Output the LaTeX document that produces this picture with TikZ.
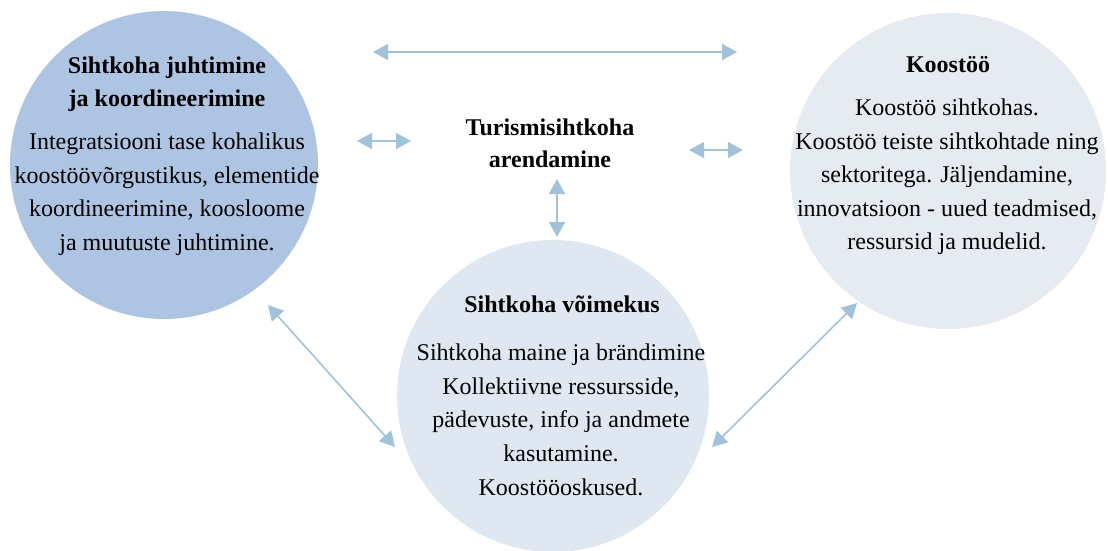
\documentclass[tikz,border=0pt]{standalone}
\usepackage{fontspec}
\setmainfont{Liberation Serif}
\usetikzlibrary{arrows.meta}
\definecolor{leftfill}{HTML}{ADC5E3}
\definecolor{rightfill}{HTML}{E6EAF1}
\definecolor{botfill}{HTML}{DFE8F2}
\definecolor{arrcol}{HTML}{A0C2DB}
\tikzset{
  bubble/.style={circle, inner sep=0pt, draw=none},
  ttl/.style={anchor=north, inner sep=0pt, align=center, font=\fontsize{24}{33}\selectfont\bfseries},
  bodytxt/.style={anchor=north, inner sep=0pt, align=center, font=\fontsize{24}{33.7}\selectfont},
  arr/.style={arrcol, line width=1.6pt, {Triangle[length=15pt,width=16pt]}-{Triangle[length=15pt,width=16pt]}}
}
\begin{document}
\begin{tikzpicture}[x=1pt,y=-1pt]
\useasboundingbox (0,0) rectangle (1108,551);
% circles
\node[bubble, fill=leftfill, minimum size=308pt] (lc) at (164,165) {};
\node[bubble, fill=rightfill, minimum size=316pt] (rc) at (948,171) {};
\node[bubble, fill=botfill, minimum size=312pt] (bc) at (553,396) {};
% texts
\node[ttl] (lt) at (167,56.7) {Sihtkoha juhtimine\\ja koordineerimine};
\node[bodytxt] (lb) at (167,132.7) {Integratsiooni tase kohalikus\\koostöövõrgustikus, elementide\\koordineerimine, koosloome\\ja muutuste juhtimine.};
\node[ttl] (rt) at (948,56) {Koostöö};
\node[bodytxt, font=\fontsize{24}{33.5}\selectfont] (rb) at (947,98.7) {Koostöö sihtkohas.\\Koostöö teiste sihtkohtade ning\\sektoritega. Jäljendamine,\\innovatsioon - uued teadmised,\\ressursid ja mudelid.};
\node[ttl] (bt) at (562,295.7) {Sihtkoha võimekus};
\node[bodytxt] (bb) at (561,343.7) {Sihtkoha maine ja brändimine\\Kollektiivne ressursside,\\pädevuste, info ja andmete\\kasutamine.\\Koostööoskused.};
\node[ttl, font=\fontsize{24}{32}\selectfont\bfseries] (ct) at (550,119) {Turismisihtkoha\\arendamine};
% arrow end points
\coordinate (t1) at (373,52);
\coordinate (t2) at (737,52);
\coordinate (m1) at (357,141);
\coordinate (m2) at (411,141);
\coordinate (n1) at (689,150);
\coordinate (n2) at (743,150);
\coordinate (v1) at (557,179);
\coordinate (v2) at (557,237);
\coordinate (d1) at (268,305);
\coordinate (d2) at (395,447);
\coordinate (e1) at (857,303);
\coordinate (e2) at (712,447);
% arrows
\draw[arr] (t1) -- (t2);
\draw[arr] (m1) -- (m2);
\draw[arr] (n1) -- (n2);
\draw[arr] (v1) -- (v2);
\draw[arr] (d1) -- (d2);
\draw[arr] (e1) -- (e2);
\end{tikzpicture}
\end{document}
